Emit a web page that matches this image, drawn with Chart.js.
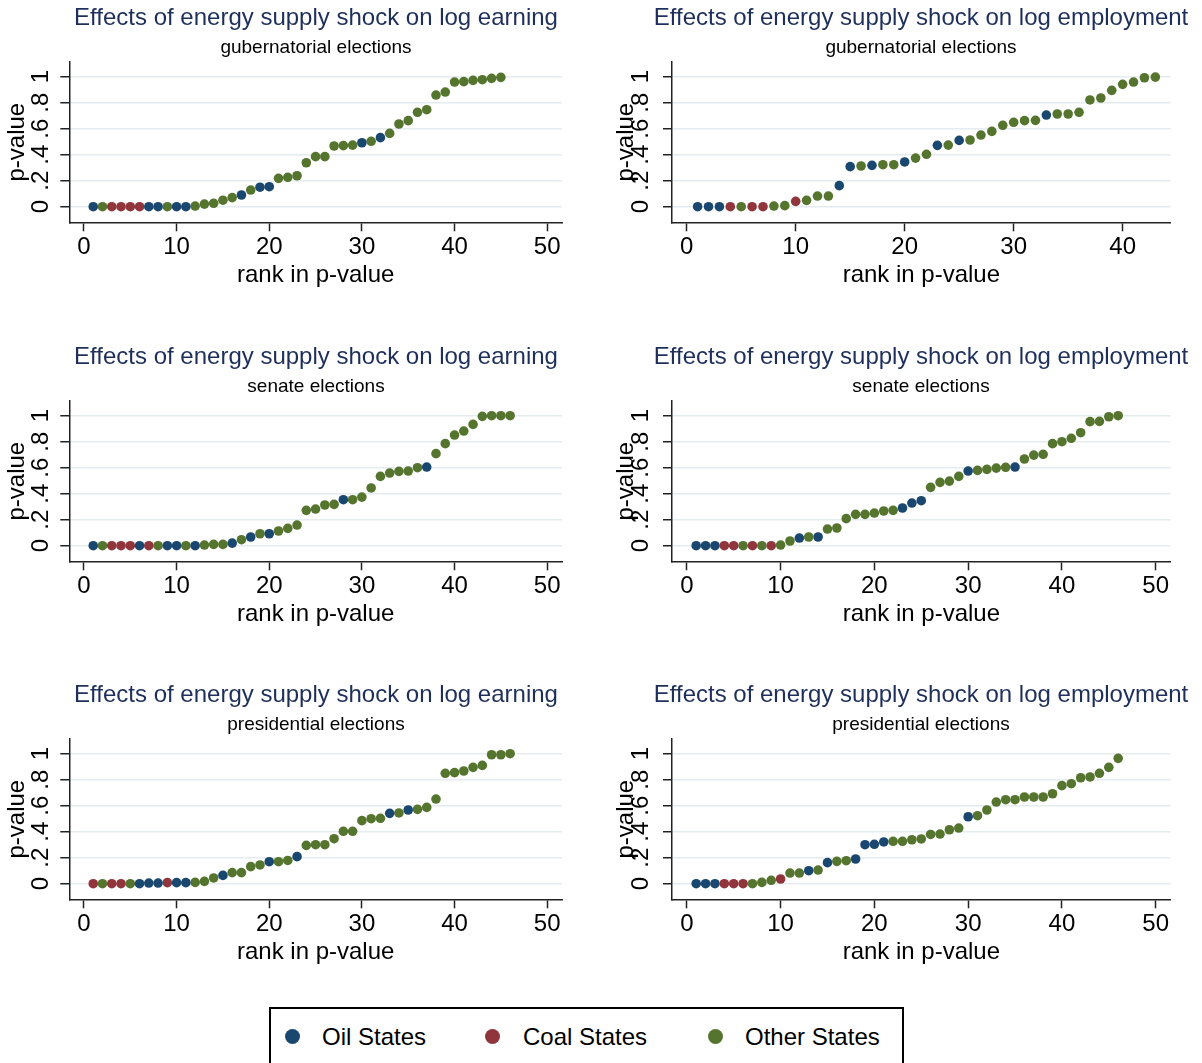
<!DOCTYPE html>
<html>
<head>
<meta charset="utf-8">
<script src="https://cdn.jsdelivr.net/npm/chart.js@4/dist/chart.umd.min.js"></script>
<style>
  html, body { margin:0; padding:0; background:#fff; overflow:hidden; width:1202px; height:1063px; }
  #wrap { position:relative; width:1202px; height:1063px; overflow:hidden; background:#fff; }
  #wrap canvas { position:absolute; }
  #legend { position:absolute; left:269px; top:1007px; width:635px; height:80px; border:2px solid #000;
            box-sizing:border-box; font-family:'Liberation Sans', Arial, Helvetica, sans-serif; font-size:24px; color:#000; }
  .dot { position:absolute; width:15px; height:15px; border-radius:50%; }
  .lab { position:absolute; height:28px; line-height:28px; white-space:nowrap; }
</style>
</head>
<body>
<div id="wrap">
  <div id="legend"></div>
</div>
<script>
// ---------------- DATA ----------------
const groupNames  = ['Oil States', 'Coal States', 'Other States'];
const groupCodes  = ['O', 'C', 'T'];

const yTickValues = [0, 0.2, 0.4, 0.6, 0.8, 1];
const yTickLabels = ['0', '.2', '.4', '.6', '.8', '1'];
const xTicks50    = [0, 10, 20, 30, 40, 50];
const xTicks40    = [0, 10, 20, 30, 40];

const titleEarn = 'Effects of energy supply shock on log earning';
const titleEmpl = 'Effects of energy supply shock on log employment';
const subGub  = 'gubernatorial elections';
const subSen  = 'senate elections';
const subPres = 'presidential elections';
const xTitle = 'rank in p-value';
const yTitle = 'p-value';

// p-values sorted by rank (rank = position + 1); group code per rank: O = oil, C = coal, T = other
const earnGubP = [0,0,0,0,0,0,0,0,0,0,0,0.005,0.02,0.026,0.05,0.07,0.09,0.128,0.15,0.154,0.218,0.226,0.238,0.338,0.385,0.385,0.467,0.47,0.474,0.492,0.503,0.531,0.564,0.636,0.662,0.726,0.746,0.859,0.882,0.959,0.962,0.972,0.977,0.987,0.995];
const earnGubG = 'OTCCCCOOTOOTTTTTOTOOTTTTTTTTTOTOTTTTTTTTTTTTT';

const emplGubP = [0,0,0,0,0,0,0,0.005,0.008,0.041,0.049,0.082,0.082,0.162,0.308,0.313,0.318,0.323,0.323,0.344,0.374,0.403,0.472,0.474,0.51,0.513,0.551,0.579,0.626,0.649,0.662,0.664,0.705,0.713,0.713,0.726,0.821,0.836,0.895,0.941,0.959,0.992,0.997];
const emplGubG = 'OOOCTCCTTCTTTOOTOTTOTTOTOTTTTTTTOTTTTTTTTTT';

const earnSenP = [0,0,0,0,0,0,0,0,0,0,0,0,0.005,0.01,0.01,0.02,0.046,0.067,0.092,0.092,0.113,0.133,0.159,0.272,0.282,0.313,0.318,0.354,0.354,0.374,0.444,0.533,0.559,0.572,0.574,0.6,0.605,0.708,0.785,0.851,0.882,0.933,0.995,1,1,1];
const earnSenG = 'OTCCCOCTOOTOTTTOTOTOTTTTTTTOTTTTTTTTOTTTTTTTTT';

const emplSenP = [0,0,0,0,0,0,0,0,0,0.005,0.036,0.059,0.067,0.067,0.128,0.136,0.208,0.241,0.241,0.251,0.267,0.272,0.29,0.328,0.346,0.449,0.487,0.497,0.533,0.574,0.579,0.587,0.597,0.603,0.605,0.667,0.697,0.703,0.785,0.8,0.826,0.869,0.954,0.956,0.992,1];
const emplSenG = 'OOOCCTCTCTTOTOTTTTTTTTOOOTTTTOTTTTOTTTTTTTTTTT';

const earnPresP = [0,0,0,0,0,0,0.005,0.005,0.008,0.008,0.008,0.01,0.018,0.044,0.064,0.085,0.085,0.131,0.144,0.169,0.169,0.179,0.208,0.295,0.3,0.3,0.346,0.403,0.403,0.485,0.5,0.503,0.541,0.544,0.567,0.572,0.587,0.651,0.849,0.854,0.867,0.895,0.91,0.992,0.992,1];
const earnPresG = 'CTCCTOOOCOOTTTOTTTTOTTOTTTTTTTTTOTOTTTTTTTTTTT';

const emplPresP = [0,0,0,0,0,0,0,0.01,0.026,0.036,0.082,0.082,0.1,0.105,0.162,0.172,0.177,0.19,0.3,0.303,0.321,0.326,0.326,0.338,0.344,0.379,0.382,0.415,0.428,0.515,0.523,0.567,0.628,0.646,0.646,0.667,0.667,0.667,0.692,0.754,0.769,0.815,0.821,0.849,0.895,0.964];
const emplPresG = 'OOOCCCTTTCTTOTOTTOOOOTTTTTTTTOTTTTTTTTTTTTTTTT';

// ---------------- STYLE / LAYOUT ----------------
const FONT = "'Liberation Sans', Arial, Helvetica, sans-serif";
const groupColors = ['#1a476f', '#90353b', '#55752f'];
const titleColor = '#1e2f5c';
const gridColor = '#e4ecf0';
const axisColor = '#222';

const cols = [
  { left: 0,   w: 632, yW: 69.33, rW: 70,   titlePad: 3.4, tickPad: 8.7 },
  { left: 600, w: 642, yW: 72,    rW: 71.3, titlePad: 12,  tickPad: 11.4 }
];
const rowTops = [0, 339, 677];
const CH = 300;

const panels = [
  { title: titleEarn, sub: subGub,  p: earnGubP,  g: earnGubG,  xt: xTicks50, xMin: -1.58, xMax: 51.6,  col: 0, row: 0 },
  { title: titleEmpl, sub: subGub,  p: emplGubP,  g: emplGubG,  xt: xTicks40, xMin: -1.35, xMax: 44.41, col: 1, row: 0 },
  { title: titleEarn, sub: subSen,  p: earnSenP,  g: earnSenG,  xt: xTicks50, xMin: -1.58, xMax: 51.6,  col: 0, row: 1 },
  { title: titleEmpl, sub: subSen,  p: emplSenP,  g: emplSenG,  xt: xTicks50, xMin: -1.58, xMax: 51.6,  col: 1, row: 1 },
  { title: titleEarn, sub: subPres, p: earnPresP, g: earnPresG, xt: xTicks50, xMin: -1.58, xMax: 51.6,  col: 0, row: 2 },
  { title: titleEmpl, sub: subPres, p: emplPresP, g: emplPresG, xt: xTicks50, xMin: -1.58, xMax: 51.6,  col: 1, row: 2 }
];

const wrap = document.getElementById('wrap');

function makeChart(pn) {
  const col = cols[pn.col];
  const cv = document.createElement('canvas');
  cv.width = col.w; cv.height = CH;
  cv.style.left = col.left + 'px';
  cv.style.top = rowTops[pn.row] + 'px';
  cv.style.width = col.w + 'px';
  cv.style.height = CH + 'px';
  wrap.appendChild(cv);

  const codes = pn.g.split('');
  const datasets = groupCodes.map((code, gi) => ({
    label: groupNames[gi],
    data: pn.p.map((v, i) => ({ x: i + 1, y: v })).filter((d, i) => codes[i] === code),
    backgroundColor: groupColors[gi],
    borderColor: groupColors[gi],
    borderWidth: 0,
    pointRadius: 4.8,
    pointHoverRadius: 4.8
  }));

  new Chart(cv, {
    type: 'scatter',
    data: { datasets },
    options: {
      responsive: false,
      animation: false,
      events: [],
      devicePixelRatio: 1,
      layout: { padding: 0 },
      plugins: {
        legend: { display: false },
        tooltip: { enabled: false },
        title: { display: true, text: pn.title, color: titleColor,
                 font: { family: FONT, size: 24, weight: 'normal' }, padding: { top: 3.7, bottom: 0 } },
        subtitle: { display: true, text: pn.sub, color: '#000',
                 font: { family: FONT, size: 19, weight: 'normal' }, padding: { top: 3.8, bottom: 2.9 } }
      },
      scales: {
        x: {
          type: 'linear', position: 'bottom', min: pn.xMin, max: pn.xMax,
          afterBuildTicks: a => { a.ticks = pn.xt.map(v => ({ value: v })); },
          afterFit: a => { a.height = 77.7; },
          grid: { drawOnChartArea: false, drawTicks: true, tickLength: 9, tickColor: axisColor, tickWidth: 1.5 },
          border: { display: true, color: axisColor, width: 1.5 },
          ticks: { font: { family: FONT, size: 24 }, color: '#000', padding: 1.4, minRotation: 0, maxRotation: 0, autoSkip: false },
          title: { display: true, text: xTitle, color: '#000', font: { family: FONT, size: 24 }, padding: { top: 0, bottom: 10 } }
        },
        y: {
          type: 'linear', position: 'left', min: -0.12, max: 1.113,
          afterBuildTicks: a => { a.ticks = yTickValues.map(v => ({ value: v })); },
          afterFit: a => { a.width = col.yW; },
          grid: { color: gridColor, lineWidth: 1.5, drawTicks: true, tickLength: 9, tickColor: axisColor, tickWidth: 1.5 },
          border: { display: true, color: axisColor, width: 1.5 },
          ticks: { font: { family: FONT, size: 24 }, color: '#000', padding: col.tickPad,
                   minRotation: 90, maxRotation: 90, crossAlign: 'center', autoSkip: false,
                   callback: (v, i) => yTickLabels[i] },
          title: { display: true, text: yTitle, color: '#000', font: { family: FONT, size: 24 }, padding: { top: col.titlePad, bottom: 0 } }
        },
        yR: {
          type: 'linear', position: 'right', display: true,
          grid: { display: false }, ticks: { display: false }, border: { display: false },
          afterFit: a => { a.width = col.rW; }
        }
      }
    }
  });
}

panels.forEach(makeChart);

// ---------------- LEGEND (HTML) ----------------
const legend = document.getElementById('legend');
const dotX = [21, 221, 444];
const labX = [51, 252, 474];
groupNames.forEach((name, gi) => {
  const d = document.createElement('div');
  d.className = 'dot';
  d.style.left = (dotX[gi] - 7.5) + 'px';
  d.style.top = (27 - 7.5) + 'px';
  d.style.background = groupColors[gi];
  legend.appendChild(d);
  const t = document.createElement('div');
  t.className = 'lab';
  t.style.left = labX[gi] + 'px';
  t.style.top = '14px';
  t.textContent = name;
  legend.appendChild(t);
});
</script>
</body>
</html>
